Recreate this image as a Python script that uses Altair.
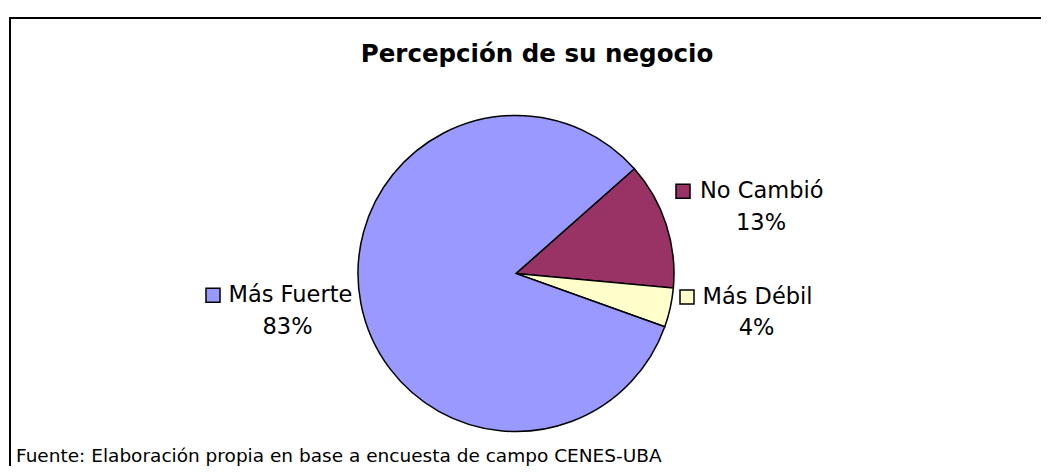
import altair as alt
import pandas as pd

# ---- data ----
categories = ["No Cambió", "Más Débil", "Más Fuerte"]
values = [13, 4, 83]
colors = ["#993366", "#FFFFCC", "#9999FF"]
title_text = "Percepción de su negocio"
source_text = "Fuente: Elaboración propia en base a encuesta de campo CENES-UBA"

df = pd.DataFrame({"cat": categories, "value": values, "ord": list(range(len(categories)))})

# ---- layout (pixels within chart) ----
W, H = 1033, 458
CX, CY, R = 507, 265.5, 158
START = 0.8465  # radians, clockwise from 12 o'clock
TWO_PI = 6.283185307179586
FONT = "DejaVu Sans"

label_layout = {
    "No Cambió": dict(sq=(674, 183.3), tx=(691, 190.3), pc=(752, 222)),
    "Más Débil": dict(sq=(678, 289), tx=(693.5, 296), pc=(747.5, 327)),
    "Más Fuerte": dict(sq=(204, 287.3), tx=(219.5, 294.3), pc=(278.5, 325.5)),
}

color_scale = alt.Scale(domain=categories, range=colors)

pie = alt.Chart(df).mark_arc(radius=R, stroke="black", strokeWidth=1.5).encode(
    theta=alt.Theta("value:Q", stack=True, scale=alt.Scale(range=[START, START + TWO_PI])),
    color=alt.Color("cat:N", scale=color_scale, legend=None),
    order=alt.Order("ord:Q"),
    x=alt.value(CX),
    y=alt.value(CY),
)

layers = [pie]

for cat, val in zip(categories, values):
    lay = label_layout[cat]
    sub = df[df["cat"] == cat]
    sq = alt.Chart(sub).mark_square(size=196, stroke="black", strokeWidth=1.5, opacity=1).encode(
        x=alt.value(lay["sq"][0]), y=alt.value(lay["sq"][1]),
        color=alt.Color("cat:N", scale=color_scale, legend=None),
    )
    tx = alt.Chart(sub).mark_text(font=FONT, fontSize=22.5, align="left", baseline="alphabetic", color="black").encode(
        x=alt.value(lay["tx"][0]), y=alt.value(lay["tx"][1]), text="cat:N"
    )
    pc = alt.Chart(sub).transform_calculate(p="datum.value + '%'").mark_text(
        font=FONT, fontSize=22.5, align="center", baseline="alphabetic", color="black"
    ).encode(x=alt.value(lay["pc"][0]), y=alt.value(lay["pc"][1]), text="p:N")
    layers += [sq, tx, pc]

base = alt.Chart(pd.DataFrame({"t": [title_text], "s": [source_text]}))

title = base.mark_text(font=FONT, fontSize=24.5, fontWeight="bold", align="center",
                       baseline="alphabetic", color="black").encode(
    x=alt.value(528), y=alt.value(53.7), text="t:N")
source = base.mark_text(font=FONT, fontSize=18.5, align="left", baseline="alphabetic",
                        color="black").encode(
    x=alt.value(7), y=alt.value(454), text="s:N")

frame_top = base.mark_rule(color="black", strokeWidth=2).encode(
    x=alt.value(0), x2=alt.value(W), y=alt.value(10))
frame_left = base.mark_rule(color="black", strokeWidth=2).encode(
    x=alt.value(1), y=alt.value(9), y2=alt.value(H))

chart = alt.layer(*layers, title, source, frame_top, frame_left).properties(
    width=W, height=H, padding=0, background="white",
    autosize=alt.AutoSizeParams(type="fit", contains="padding"),
).configure_view(strokeWidth=0, stroke="transparent")

chart.save("out.html", embed_options={"renderer": "svg", "actions": False})
